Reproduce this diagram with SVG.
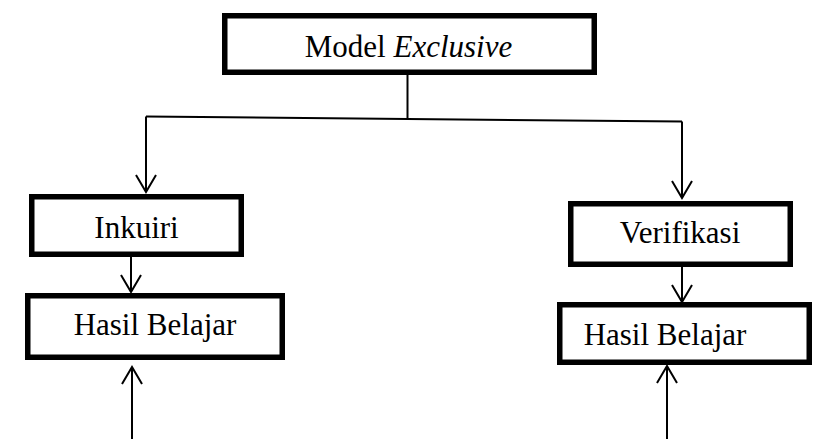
<svg xmlns="http://www.w3.org/2000/svg" width="814" height="439" viewBox="0 0 814 439">
<style>
.box{fill:#fff;stroke:#000;stroke-width:5.5}
.t{font-family:"Liberation Serif","Times New Roman",serif;font-size:31px;fill:#000;text-anchor:middle}
.c{fill:none;stroke:#000;stroke-width:2}
.a{marker-end:url(#ah)}
</style>
<defs>
<marker id="ah" markerUnits="userSpaceOnUse" viewBox="0 0 18 22" refX="17" refY="11" markerWidth="18" markerHeight="22" orient="auto" overflow="visible">
<path d="M0,1 L17,11 L0,21" fill="none" stroke="#000" stroke-width="2"/>
</marker>
</defs>
<rect width="814" height="439" fill="#fff"/>
<g id="connectors">
<path class="c" d="M407.5,75 V118"/>
<path class="c" d="M146,116.5 L682,121.5"/>
<path class="c a" d="M146,116.5 V192"/>
<path class="c a" d="M682,121.5 V198"/>
<path class="c a" d="M131,257 V292"/>
<path class="c a" d="M682,267 V302"/>
<path class="c a" d="M132,439 V367"/>
<path class="c a" d="M667,439 V366"/>
</g>
<g id="model">
<rect class="box" x="224.75" y="15.75" width="369.5" height="56.5"/>
<text class="t" x="408.5" y="57">Model <tspan font-style="italic">Exclusive</tspan></text>
</g>
<g id="inkuiri">
<rect class="box" x="31.75" y="196.75" width="209.5" height="57.5"/>
<text class="t" x="136.5" y="238">Inkuiri</text>
</g>
<g id="verifikasi">
<rect class="box" x="570.75" y="203.75" width="219.5" height="60.5"/>
<text class="t" x="680" y="243">Verifikasi</text>
</g>
<g id="hasil-left">
<rect class="box" x="27.75" y="295.75" width="254.5" height="61.5"/>
<text class="t" x="155" y="335">Hasil Belajar</text>
</g>
<g id="hasil-right">
<rect class="box" x="559.75" y="304.75" width="249.5" height="57.5"/>
<text class="t" x="665" y="345">Hasil Belajar</text>
</g>
</svg>
